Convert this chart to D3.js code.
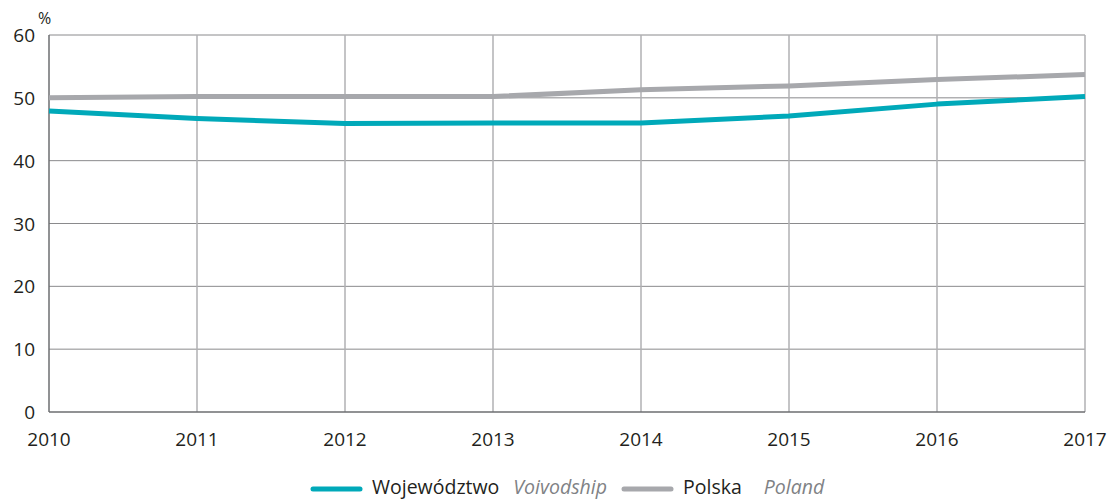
<!DOCTYPE html>
<html>
<head>
<meta charset="utf-8">
<script src="https://cdn.jsdelivr.net/npm/d3@7"></script>
<style>
  body { margin: 0; background: #fff; }
  text { font-family: "Open Sans", "Noto Sans", sans-serif; }
</style>
</head>
<body>
<div id="chart"></div>
<script>
// Chart data
var years = [2010, 2011, 2012, 2013, 2014, 2015, 2016, 2017];
var voivodship = [47.9, 46.7, 45.9, 46.0, 46.0, 47.1, 49.0, 50.2];
var poland = [50.0, 50.2, 50.2, 50.2, 51.3, 51.9, 52.9, 53.7];
var yTicks = [0, 10, 20, 30, 40, 50, 60];

var W = 1111, H = 499;
var plotLeft = 49, plotRight = 1085, plotTop = 35, plotBottom = 412;

var svg = d3.select("#chart").append("svg")
    .attr("width", W)
    .attr("height", H);

var x = d3.scaleLinear().domain([2010, 2017]).range([plotLeft, plotRight]);
var y = d3.scaleLinear().domain([0, 60]).range([plotBottom, plotTop]);

// horizontal grid
svg.append("g").selectAll("line")
    .data(yTicks.filter(function(d){ return d > 0; }))
    .enter().append("line")
    .attr("x1", plotLeft).attr("x2", plotRight)
    .attr("y1", function(d){ return y(d); })
    .attr("y2", function(d){ return y(d); })
    .attr("stroke", "#8a8a8c")
    .attr("stroke-width", 1);

// vertical grid
svg.append("g").selectAll("line")
    .data(years.slice(1))
    .enter().append("line")
    .attr("x1", function(d){ return x(d); })
    .attr("x2", function(d){ return x(d); })
    .attr("y1", plotTop).attr("y2", plotBottom)
    .attr("stroke", "#b1b1b3")
    .attr("stroke-width", 1.5);

// axes lines
svg.append("line").attr("x1", plotLeft).attr("x2", plotLeft)
    .attr("y1", plotTop).attr("y2", plotBottom)
    .attr("stroke", "#6d6e70").attr("stroke-width", 1.5);
svg.append("line").attr("x1", plotLeft).attr("x2", plotRight)
    .attr("y1", plotBottom).attr("y2", plotBottom)
    .attr("stroke", "#6d6e70").attr("stroke-width", 1.5);

// y tick labels
svg.append("g").selectAll("text")
    .data(yTicks)
    .enter().append("text")
    .attr("x", 35)
    .attr("y", function(d){ return y(d) + 7; })
    .attr("text-anchor", "end")
    .attr("font-size", 19)
    .attr("fill", "#231f20")
    .text(function(d){ return d; });

svg.append("text")
    .attr("x", 38).attr("y", 24)
    .attr("font-size", 16)
    .attr("fill", "#231f20")
    .text("%");

// x tick labels
svg.append("g").selectAll("text")
    .data(years)
    .enter().append("text")
    .attr("x", function(d){ return x(d); })
    .attr("y", 446)
    .attr("text-anchor", "middle")
    .attr("font-size", 19)
    .attr("fill", "#231f20")
    .text(function(d){ return d; });

// series lines
var line = d3.line()
    .x(function(d, i){ return x(years[i]); })
    .y(function(d){ return y(d); });

svg.append("path").datum(poland)
    .attr("d", line)
    .attr("fill", "none")
    .attr("stroke", "#a7a8ac")
    .attr("stroke-width", 5)
    .attr("stroke-linejoin", "round");

svg.append("path").datum(voivodship)
    .attr("d", line)
    .attr("fill", "none")
    .attr("stroke", "#00a9b9")
    .attr("stroke-width", 5)
    .attr("stroke-linejoin", "round");

// legend
function legendItem(x0, color, main, sub, gap){
    var g = svg.append("g");
    g.append("line")
        .attr("x1", x0).attr("x2", x0 + 47)
        .attr("y1", 489).attr("y2", 489)
        .attr("stroke", color).attr("stroke-width", 5)
        .attr("stroke-linecap", "round");
    var t = g.append("text")
        .attr("x", x0 + 59).attr("y", 494)
        .attr("font-size", 19.5)
        .attr("fill", "#231f20");
    t.append("tspan").text(main);
    t.append("tspan").attr("dx", gap)
        .attr("font-style", "italic")
        .attr("fill", "#808285")
        .text(sub);
}
legendItem(313, "#00a9b9", "Województwo", "Voivodship", 14);
legendItem(624, "#a7a8ac", "Polska", "Poland", 22);
</script>
</body>
</html>
